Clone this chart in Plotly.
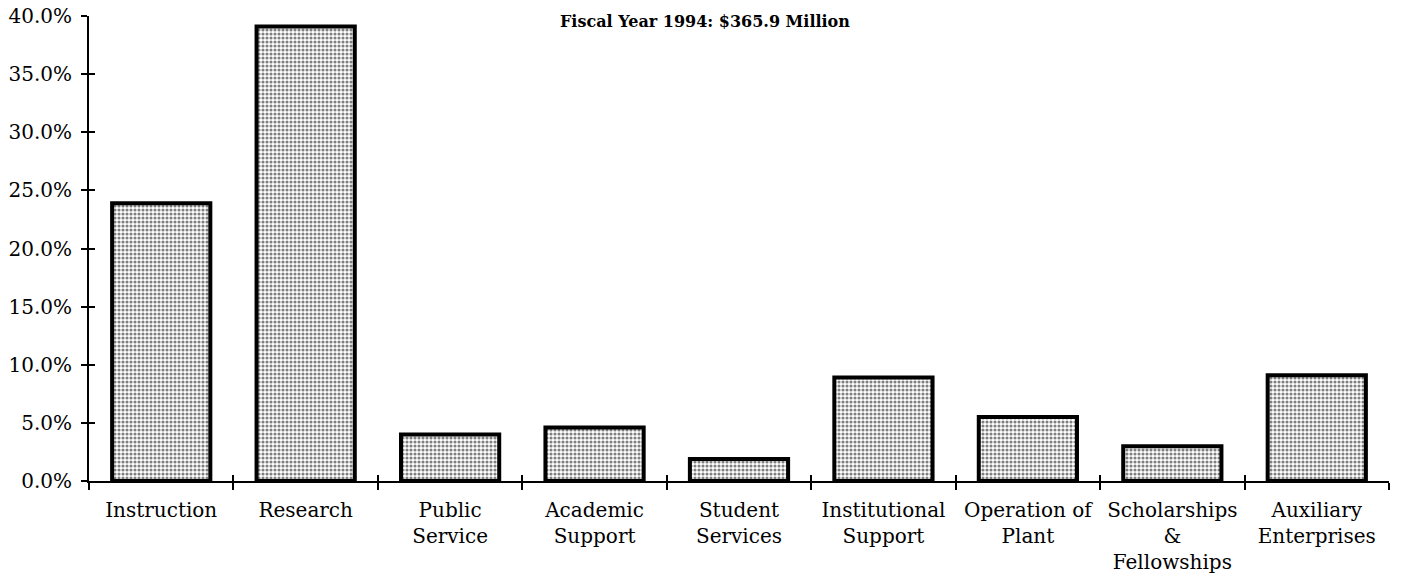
import plotly.graph_objects as go

# Share of current fund expenditures by function, FY 1994
categories = [
    "Instruction",
    "Research",
    "Public<br>Service",
    "Academic<br>Support",
    "Student<br>Services",
    "Institutional<br>Support",
    "Operation of<br>Plant",
    "Scholarships<br>&<br>Fellowships",
    "Auxiliary<br>Enterprises",
]
shares = [23.9, 39.1, 4.0, 4.6, 1.9, 8.9, 5.5, 3.0, 9.1]
y_ticks = [0, 5, 10, 15, 20, 25, 30, 35, 40]
y_tick_text = [f"{v:.1f}%" for v in y_ticks]

FONT = "DejaVu Serif"

fig = go.Figure()

# Stippled bars with heavy black outlines
fig.add_trace(go.Bar(
    x=categories,
    y=shares,
    marker=dict(
        color="white",
        line=dict(color="black", width=4),
        pattern=dict(shape=".", fgcolor="black", bgcolor="white",
                     size=4, solidity=0.48, fillmode="overlay"),
    ),
    hoverinfo="x+y",
    showlegend=False,
))

# Invisible copy on overlay axes, used only to draw the inward half of the ticks
fig.add_trace(go.Bar(
    x=categories,
    y=shares,
    xaxis="x2",
    yaxis="y2",
    marker=dict(color="rgba(0,0,0,0)", line=dict(width=0)),
    hoverinfo="skip",
    showlegend=False,
))

axis_common = dict(showgrid=False, zeroline=False, linecolor="black",
                   tickcolor="black", tickwidth=1.5, automargin=False)

fig.update_layout(
    width=1402,
    height=584,
    margin=dict(l=89, r=13, t=16, b=103, autoexpand=False),
    paper_bgcolor="white",
    plot_bgcolor="white",
    bargap=0.32,
    font=dict(family=FONT, size=20, color="black"),
    xaxis=dict(
        **axis_common,
        showline=True,
        linewidth=2,
        ticks="outside",
        ticklen=7,
        tickson="boundaries",
        tickfont=dict(family=FONT, size=20, color="black"),
        ticklabelstandoff=10,
    ),
    yaxis=dict(
        **axis_common,
        showline=True,
        linewidth=2,
        range=[0, 40],
        tickvals=y_ticks,
        ticktext=y_tick_text,
        ticks="outside",
        ticklen=6,
        tickfont=dict(family=FONT, size=20, color="black"),
        ticklabelstandoff=5,
    ),
    xaxis2=dict(
        **axis_common,
        overlaying="x",
        matches="x",
        showline=False,
        ticks="inside",
        ticklen=6,
        tickson="boundaries",
        showticklabels=False,
    ),
    yaxis2=dict(
        **axis_common,
        overlaying="y",
        matches="y",
        showline=False,
        range=[0, 40],
        tickvals=y_ticks,
        ticks="inside",
        ticklen=6,
        showticklabels=False,
    ),
    annotations=[
        dict(
            text="<b>Fiscal Year 1994: $365.9 Million</b>",
            xref="paper", yref="paper",
            x=0.5, y=1.0,
            xanchor="center", yanchor="top",
            xshift=-34, yshift=6,
            showarrow=False,
            font=dict(family="DejaVu Serif", size=16, color="black"),
        )
    ],
)

fig.write_html("out.html")
